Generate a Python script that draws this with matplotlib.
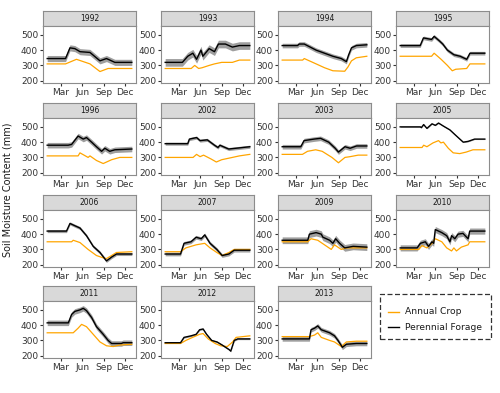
import matplotlib
matplotlib.use("Agg")
import matplotlib.pyplot as plt
from matplotlib.lines import Line2D
from matplotlib.patches import Rectangle
import numpy as np

# panel order, as in facet_wrap(ncol=4)
years = [1992, 1993, 1994, 1995, 1996, 2002, 2003, 2005,
         2006, 2007, 2009, 2010, 2011, 2012, 2013]

# annual crop (orange) : day of year -> soil moisture (mm)
crop_day = {
    1992: [1, 80, 127, 185, 228, 263, 365],
    1993: [1, 113, 128, 145, 160, 190, 213, 244, 290, 320, 365],
    1994: [1, 89, 96, 147, 183, 219, 270, 284, 299, 320, 365],
    1995: [1, 136, 147, 177, 204, 225, 240, 287, 301, 365],
    1996: [1, 134, 142, 177, 185, 213, 242, 278, 313, 365],
    2002: [1, 121, 136, 151, 166, 198, 221, 244, 290, 320, 365],
    2003: [1, 88, 110, 145, 173, 215, 243, 271, 293, 328, 365],
    2005: [1, 95, 102, 116, 142, 166, 176, 187, 208, 229, 257, 285, 314, 365],
    2006: [1, 106, 113, 142, 177, 213, 242, 256, 278, 299, 365],
    2007: [1, 67, 90, 134, 171, 194, 223, 246, 275, 298, 365],
    2009: [1, 111, 125, 154, 183, 212, 226, 255, 277, 365],
    2010: [1, 81, 95, 116, 138, 152, 180, 201, 222, 232, 243, 264, 293, 300, 365],
    2011: [1, 113, 134, 149, 170, 199, 228, 256, 285, 313, 365],
    2012: [1, 67, 90, 119, 149, 164, 186, 216, 239, 268, 291, 306, 365],
    2013: [1, 118, 140, 154, 169, 205, 226, 255, 277, 320, 365],
}
crop_val = {
    1992: [310, 310, 340, 310, 260, 280, 280],
    1993: [280, 280, 300, 280, 285, 300, 310, 320, 320, 335, 335],
    1994: [335, 335, 345, 310, 285, 265, 262, 290, 330, 350, 360],
    1995: [360, 360, 380, 340, 300, 265, 275, 280, 310, 310],
    1996: [310, 310, 330, 300, 310, 280, 260, 285, 300, 300],
    2002: [300, 300, 320, 305, 315, 290, 270, 285, 300, 310, 320],
    2003: [320, 320, 340, 350, 340, 300, 265, 300, 305, 315, 315],
    2005: [365, 365, 380, 370, 395, 410, 395, 400, 360, 330, 325, 335, 350, 350],
    2006: [350, 350, 360, 345, 300, 260, 245, 240, 260, 280, 285],
    2007: [285, 285, 310, 330, 340, 310, 280, 260, 280, 300, 300],
    2009: [350, 350, 370, 360, 330, 300, 330, 300, 310, 310],
    2010: [300, 300, 325, 310, 340, 370, 350, 310, 290, 310, 290, 315, 330, 350, 350],
    2011: [350, 350, 380, 405, 390, 340, 290, 265, 260, 270, 275],
    2012: [280, 280, 300, 320, 340, 345, 310, 280, 265, 260, 290, 320, 330],
    2013: [325, 325, 335, 350, 320, 300, 290, 260, 290, 295, 295],
}

# perennial forage (black mean line)
forage_day = {
    1992: [1, 80, 99, 120, 142, 185, 228, 256, 292, 365],
    1993: [1, 75, 98, 120, 136, 155, 163, 190, 213, 230, 260, 290, 320, 365],
    1994: [1, 67, 74, 96, 147, 183, 219, 255, 277, 287, 299, 320, 365],
    1995: [1, 87, 101, 136, 147, 170, 184, 204, 232, 259, 287, 301, 365],
    1996: [1, 91, 106, 134, 156, 170, 192, 213, 235, 249, 270, 292, 365],
    2002: [1, 98, 105, 136, 151, 182, 213, 228, 236, 274, 305, 365],
    2003: [1, 81, 95, 138, 166, 201, 229, 243, 271, 293, 321, 365],
    2005: [1, 88, 92, 102, 116, 138, 152, 166, 187, 215, 236, 272, 293, 321, 365],
    2006: [1, 84, 99, 120, 142, 170, 199, 228, 256, 278, 299, 365],
    2007: [1, 67, 82, 112, 134, 156, 171, 194, 223, 246, 275, 298, 365],
    2009: [1, 111, 118, 147, 169, 176, 205, 219, 231, 248, 270, 306, 365],
    2010: [1, 74, 88, 109, 123, 138, 145, 152, 180, 201, 215, 222, 236, 250, 271, 293, 300, 365],
    2011: [1, 92, 106, 120, 142, 156, 170, 192, 213, 242, 263, 278, 320, 328, 365],
    2012: [1, 67, 82, 112, 134, 149, 164, 179, 201, 224, 246, 276, 283, 298, 313, 365],
    2013: [1, 118, 125, 140, 154, 169, 205, 226, 241, 260, 277, 320, 365],
}
forage_val = {
    1992: [345, 345, 415, 410, 390, 385, 330, 345, 320, 320],
    1993: [320, 320, 360, 380, 340, 400, 360, 410, 390, 440, 440, 420, 430, 430],
    1994: [430, 430, 440, 440, 400, 380, 360, 345, 325, 370, 415, 430, 435],
    1995: [430, 430, 480, 470, 490, 460, 440, 400, 370, 360, 340, 380, 380],
    1996: [380, 380, 385, 440, 420, 430, 400, 370, 340, 360, 340, 350, 355],
    2002: [390, 390, 420, 430, 410, 415, 380, 365, 380, 355, 360, 370],
    2003: [370, 370, 410, 420, 425, 400, 360, 335, 370, 360, 375, 375],
    2005: [500, 500, 495, 515, 490, 520, 510, 525, 505, 480, 450, 400, 405, 420, 420],
    2006: [420, 420, 470, 455, 440, 390, 320, 280, 225, 250, 270, 270],
    2007: [270, 270, 340, 350, 380, 370, 395, 340, 300, 260, 270, 295, 295],
    2009: [360, 360, 400, 410, 400, 380, 360, 340, 370, 340, 310, 320, 315],
    2010: [310, 310, 340, 350, 320, 350, 340, 430, 410, 390, 350, 390, 370, 400, 405, 370, 420, 420],
    2011: [415, 415, 470, 490, 500, 510, 495, 450, 390, 340, 300, 280, 280, 285, 285],
    2012: [285, 285, 320, 330, 340, 370, 375, 340, 300, 290, 270, 240, 230, 300, 310, 310],
    2013: [310, 310, 370, 380, 395, 370, 350, 330, 300, 255, 275, 280, 280],
}

# half width of the grey band around the forage line (mm)
band = {1992: 20, 1993: 25, 1994: 15, 1995: 12, 1996: 18, 2002: 10, 2003: 15,
        2005: 3, 2006: 10, 2007: 12, 2009: 22, 2010: 20, 2011: 18, 2012: 5,
        2013: 15}

month_ticks = [60, 152, 244, 335]
month_labels = ["Mar", "Jun", "Sep", "Dec"]
y_ticks = [200, 300, 400, 500]

W, H = 500, 393
fig = plt.figure(figsize=(W / 100, H / 100), dpi=100)

col_x = [43, 161, 278, 396]
row_y = [11, 103, 195, 286]
pw, sh, ph = 93, 15, 57

def box(x, y, w, h):
    return [x / W, 1 - (y + h) / H, w / W, h / H]

for i, yr in enumerate(years):
    r, c = divmod(i, 4)
    x0, y0 = col_x[c], row_y[r]

    # strip
    sax = fig.add_axes(box(x0, y0, pw, sh))
    sax.set_facecolor("#D9D9D9")
    sax.set_xticks([])
    sax.set_yticks([])
    for s in sax.spines.values():
        s.set_color("#8C8C8C")
        s.set_linewidth(0.8)
    sax.text(0.5, 0.5, str(yr), ha="center", va="center", fontsize=5.5,
             color="#1A1A1A", transform=sax.transAxes)

    ax = fig.add_axes(box(x0, y0 + sh, pw, ph))
    fd = np.array(forage_day[yr])
    fv = np.array(forage_val[yr])
    ax.fill_between(fd, fv - band[yr], fv + band[yr], color="#7F7F7F",
                    alpha=0.75, linewidth=0)
    ax.plot(crop_day[yr], crop_val[yr], color="#FFA500", linewidth=0.9)
    ax.plot(fd, fv, color="black", linewidth=1.0)

    ax.set_xlim(-17, 383)
    ax.set_ylim(185, 558)
    ax.set_xticks(month_ticks)
    ax.set_xticklabels(month_labels)
    ax.set_yticks(y_ticks)
    ax.tick_params(length=2, width=0.8, labelsize=6.5, pad=1.5,
                   color="#333333", labelcolor="#333333")
    for s in ax.spines.values():
        s.set_color("#8C8C8C")
        s.set_linewidth(0.8)

fig.text(8 / W, 1 - 190 / H, "Soil Moisture Content (mm)", rotation=90,
         ha="center", va="center", fontsize=7, color="#1A1A1A")

# legend with dashed frame
lx, ly, lw, lh = 380, 294, 111, 45
fig.patches.append(Rectangle((lx / W, 1 - (ly + lh) / H), lw / W, lh / H,
                             transform=fig.transFigure, fill=False,
                             linestyle=(0, (4, 2)), linewidth=0.9,
                             edgecolor="#333333"))
for k, (lab, col) in enumerate([("Annual Crop", "#FFA500"),
                                ("Perennial Forage", "black")]):
    yy = 1 - (312 + k * 15) / H
    fig.add_artist(Line2D([388 / W, 399 / W], [yy, yy], color=col,
                          linewidth=1.0, transform=fig.transFigure))
    fig.text(405 / W, yy, lab, ha="left", va="center", fontsize=6.6,
             color="#1A1A1A")

fig.savefig("out.png", dpi=100)
